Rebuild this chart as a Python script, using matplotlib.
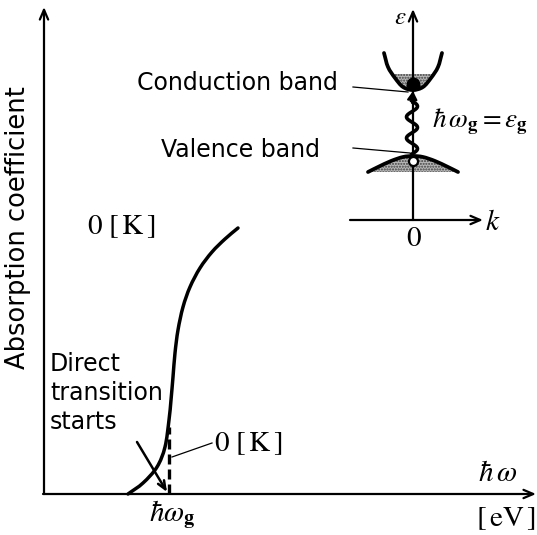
import numpy as np
import matplotlib
matplotlib.use("Agg")
import matplotlib.pyplot as plt
from matplotlib.path import Path
from matplotlib.patches import PathPatch

plt.rcParams['mathtext.fontset'] = 'stix'

# absorption edge, photon energy vs absorption (arbitrary units)
energy = [84, 99, 113, 121, 125, 127, 129, 131, 134, 139, 146, 156, 168, 181, 194]
absorption = [0, 11, 27, 47, 74, 94, 117, 141, 164, 187, 207, 226, 242, 255, 266]
gap_energy = 125      # hbar*omega_g, 0 K edge
edge_height = 67      # top of the dashed 0 K edge

# band diagram (k, energy) read at a few points
cb_k = [-29, -25, -18, -10, 0, 10, 18, 25, 29]
cb_e = [167, 153, 142, 133, 130, 133, 142, 153, 167]
vb_k = [-45, -35, -22, -10, 0, 10, 22, 35, 45]
vb_e = [48, 53, 59, 63, 64, 63, 59, 53, 48]
cb_fill_top = 146
vb_fill_bottom = 48
electron_e = 136
hole_e = 59


def smooth_path(xs, ys):
    # Catmull-Rom through the points, written as cubic bezier segments
    p = np.column_stack([xs, ys]).astype(float)
    ext = np.vstack([p[0] - (p[1] - p[0]), p, p[-1] + (p[-1] - p[-2])])
    verts = [p[0]]
    codes = [Path.MOVETO]
    for i in range(1, len(ext) - 2):
        p0, p1, p2, p3 = ext[i - 1], ext[i], ext[i + 1], ext[i + 2]
        verts += [p1 + (p2 - p0) / 6, p2 - (p3 - p1) / 6, p2]
        codes += [Path.CURVE4] * 3
    return Path(verts, codes)


def path_points(path):
    return path.to_polygons(closed_only=False)[0]


fig = plt.figure(figsize=(5.37, 5.35), dpi=100)
ax = fig.add_axes([0, 0, 1, 1])
ax.set_xlim(-44, 493)
ax.set_ylim(-41, 494)
ax.axis('off')

arrow_kw = dict(arrowstyle='->,head_length=0.7,head_width=0.3', lw=1.6, color='black',
                shrinkA=0, shrinkB=0)
ax.annotate('', xy=(0, 487), xytext=(0, 0), arrowprops=arrow_kw)
ax.annotate('', xy=(492, 0), xytext=(-1, 0), arrowprops=arrow_kw)

# absorption curve and the 0 K edge
ax.add_patch(PathPatch(smooth_path(energy, absorption), fill=False, lw=2.5,
                       edgecolor='black', capstyle='round'))
ax.plot([gap_energy, gap_energy], [0, edge_height], color='black', lw=2.4,
        dashes=(3, 1.5))

ax.annotate('', xy=(123, 2), xytext=(93, 52),
            arrowprops=dict(arrowstyle='->,head_length=0.6,head_width=0.25', lw=1.8,
                            color='black', shrinkA=0, shrinkB=0))
ax.plot([168, 128], [51, 37], color='black', lw=0.9)

k_label = r'$0\ [\,\mathrm{K}\,]$'
ax.text(170, 51, k_label, fontsize=21, ha='left', va='center')
ax.text(43, 268, k_label, fontsize=21, ha='left', va='center')
ax.text(128, -21, r'$\hbar\omega_{\mathbf{g}}$', fontsize=21, ha='center', va='center')
ax.text(454, 21, r'$\hbar\,\omega$', fontsize=21, ha='center', va='center')
ax.text(492, -24, r'$[\,\mathrm{eV}\,]$', fontsize=21, ha='right', va='center')

ax.text(6, 101, 'Direct\ntransition\nstarts', fontsize=17, ha='left', va='center',
        linespacing=1.25)
ax.text(-26, 266, 'Absorption coefficient', fontsize=18.5, rotation=90,
        ha='center', va='center')
ax.text(294, 411, 'Conduction band', fontsize=17, ha='right', va='center')
ax.text(276, 344, 'Valence band', fontsize=17, ha='right', va='center')

# inset: band structure around k = 0
ins = fig.add_axes([340 / 537, 280 / 535, 197 / 537, 255 / 535])
ins.set_xlim(-73, 124)
ins.set_ylim(-35, 220)
ins.axis('off')

ins.annotate('', xy=(70, 0), xytext=(-63, 0), arrowprops=arrow_kw)
ins.annotate('', xy=(0, 211), xytext=(0, 0), arrowprops=arrow_kw)

stipple = dict(facecolor='0.72', edgecolor='0.25', hatch='......', linewidth=0)
cb_path = smooth_path(cb_k, cb_e)
vb_path = smooth_path(vb_k, vb_e)
cb_pts = path_points(cb_path)
vb_pts = path_points(vb_path)
ins.fill_between(cb_pts[:, 0], cb_pts[:, 1], cb_fill_top,
                 where=cb_pts[:, 1] <= cb_fill_top, interpolate=True, **stipple)
ins.fill_between(vb_pts[:, 0], vb_fill_bottom, vb_pts[:, 1], **stipple)
ins.add_patch(PathPatch(cb_path, fill=False, lw=2.7, edgecolor='black', capstyle='round'))
ins.add_patch(PathPatch(vb_path, fill=False, lw=2.7, edgecolor='black', capstyle='round'))

# photon: wavy arrow from hole to electron
wave_e = np.linspace(66, 119, 200)
wave_k = -1 + 5.5 * np.sin((wave_e - 66) / (119 - 66) * 5 * np.pi)
ins.plot(wave_k, wave_e, color='black', lw=2.6)
ins.annotate('', xy=(0, 129), xytext=(-1, 117),
             arrowprops=dict(arrowstyle='-|>,head_length=0.5,head_width=0.3', lw=1.5,
                             color='black', shrinkA=0, shrinkB=0))

ins.plot(0, electron_e, 'o', color='black', ms=9, zorder=5)
ins.plot(0, hole_e, 'o', mfc='white', mec='black', mew=1.6, ms=6.5, zorder=5)

ins.plot([-60, -5], [133, 128], color='black', lw=0.9, clip_on=False)
ins.plot([-60, -3], [72, 67], color='black', lw=0.9, clip_on=False)

ins.text(-13, 203, r'$\varepsilon$', fontsize=18, ha='center', va='center')
ins.text(80, -2, r'$k$', fontsize=21, ha='center', va='center')
ins.text(1, -18, r'$0$', fontsize=21, ha='center', va='center')
ins.text(19, 98, r'$\hbar\,\omega_{\mathbf{g}} = \varepsilon_{\mathbf{g}}$', fontsize=19.5,
         ha='left', va='center')

fig.savefig('out.png', dpi=100)
